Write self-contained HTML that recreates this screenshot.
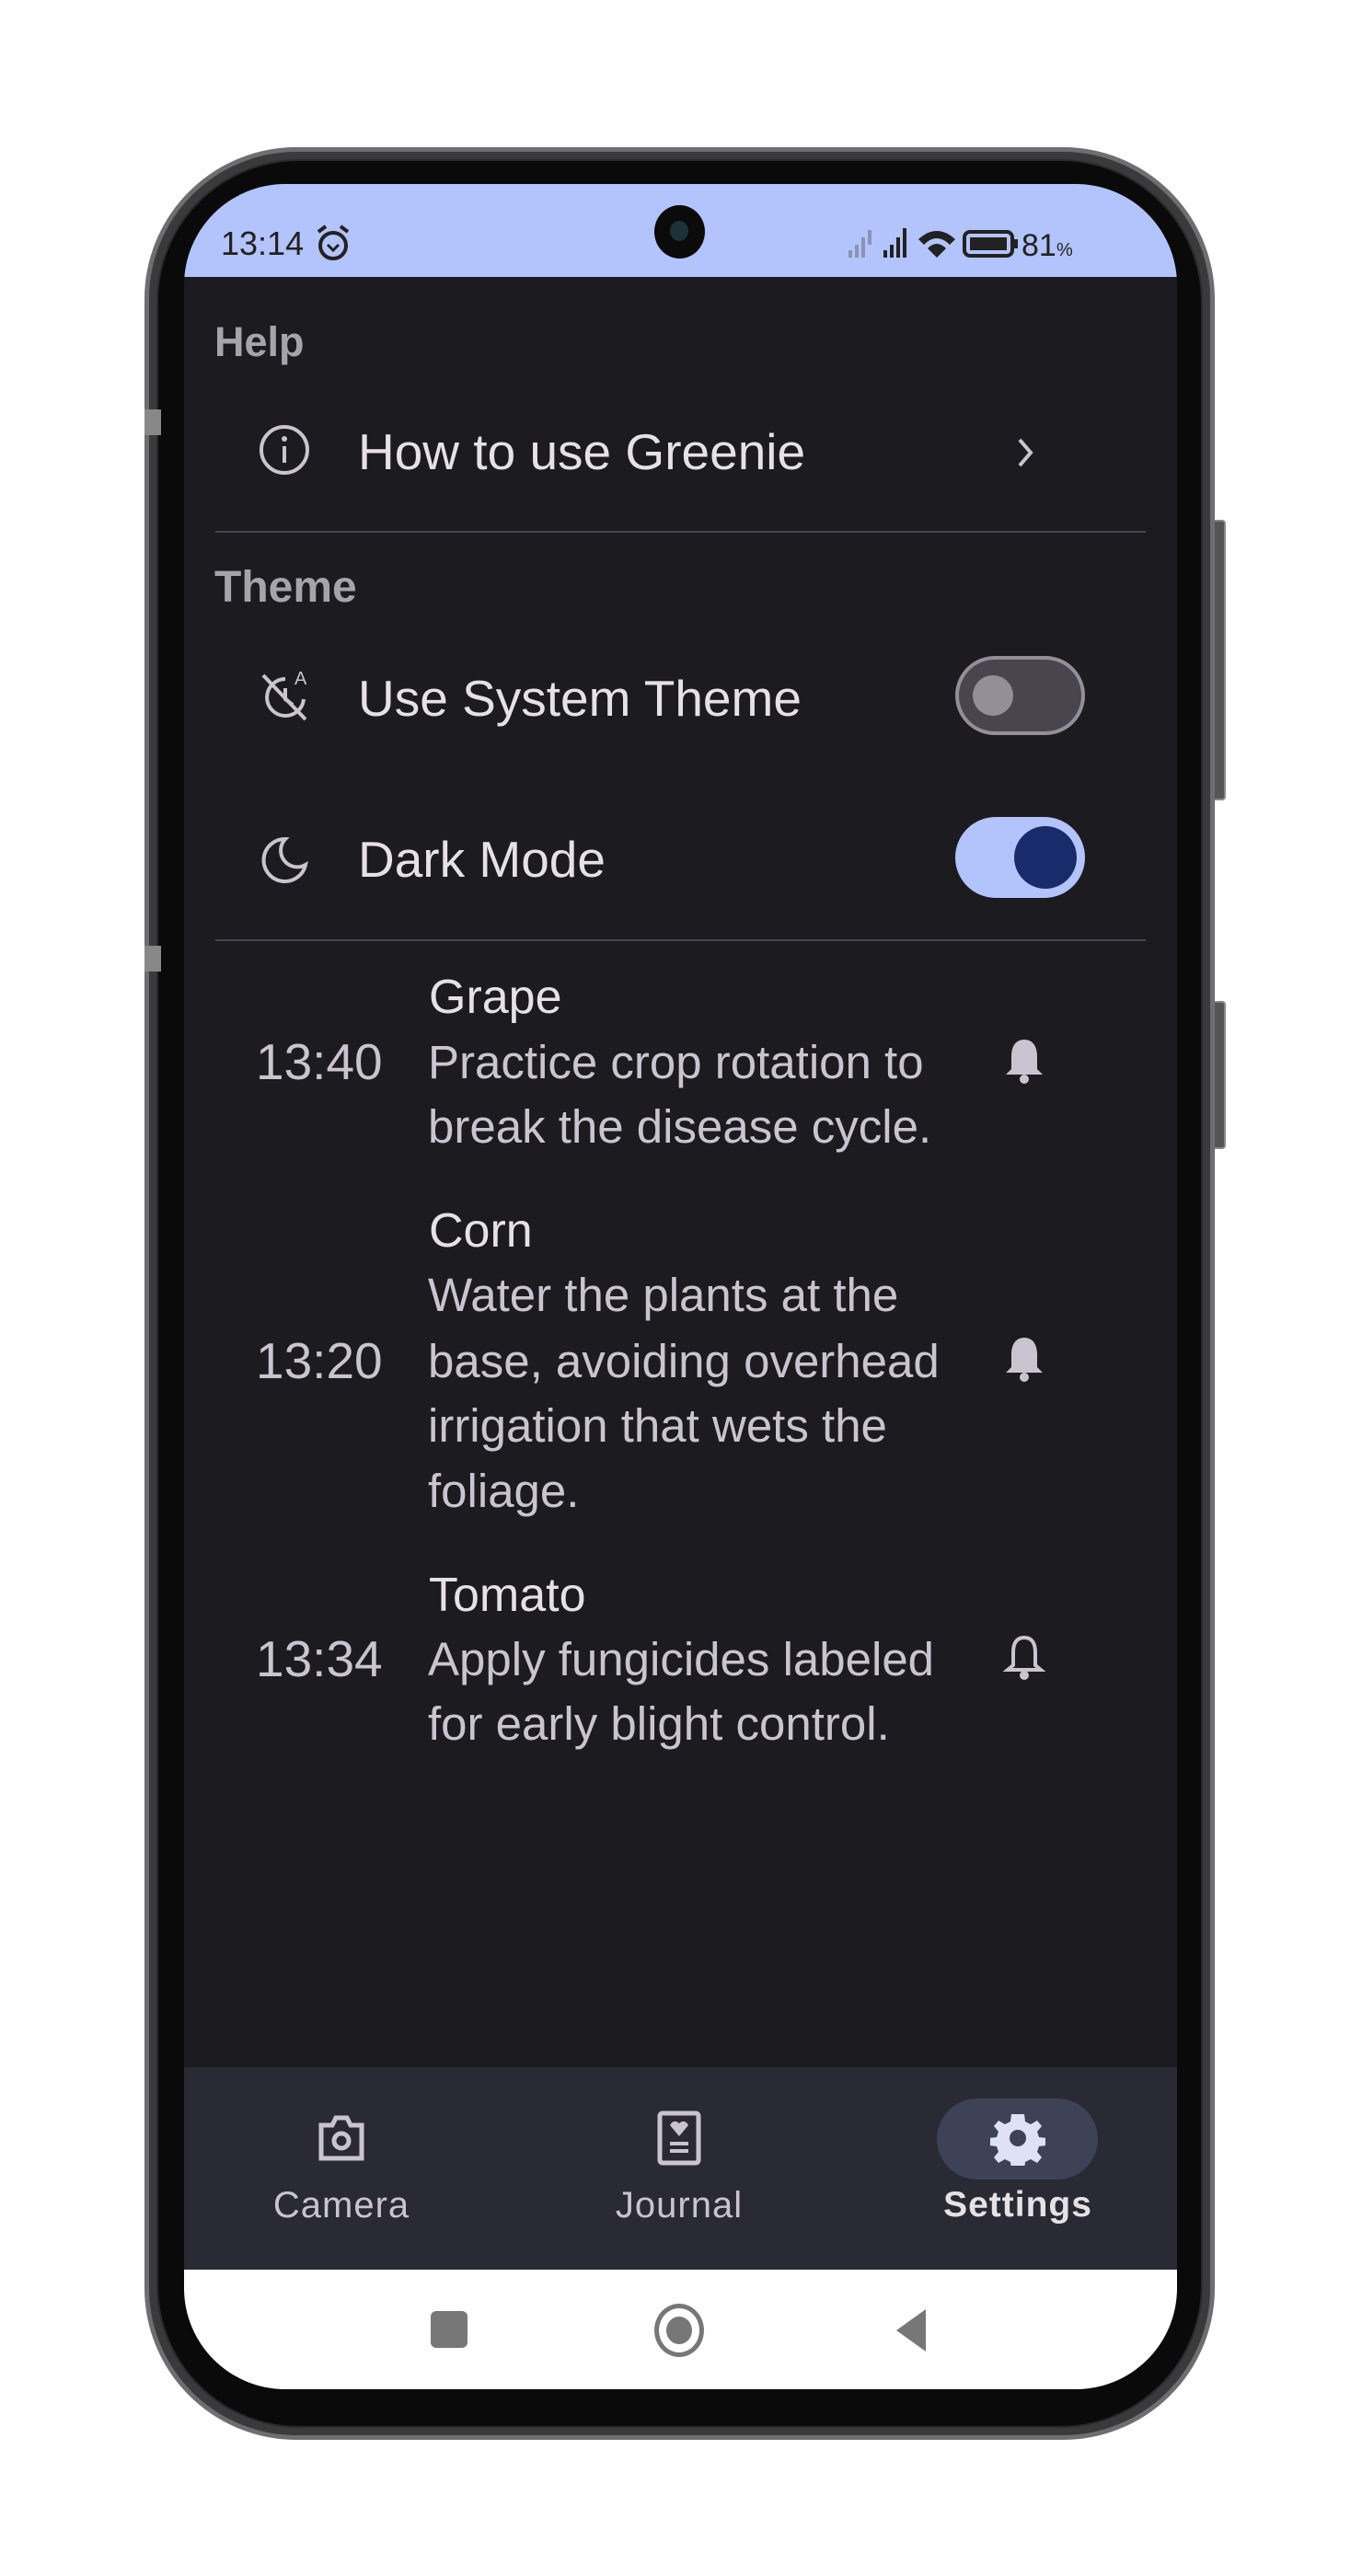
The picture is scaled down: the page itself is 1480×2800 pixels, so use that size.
<!DOCTYPE html>
<html><head><meta charset="utf-8"><style>
*{margin:0;padding:0;box-sizing:border-box}
body{width:1480px;height:2800px;background:#fff;position:relative;overflow:hidden;font-family:"Liberation Sans",sans-serif}
.a{position:absolute}
.t{position:absolute;white-space:nowrap;line-height:1}
</style></head><body>
<div class="a" style="left:1316px;top:565px;width:16px;height:305px;background:#555;border-radius:4px;border:2px solid #888"></div>
<div class="a" style="left:1316px;top:1088px;width:16px;height:161px;background:#555;border-radius:4px;border:2px solid #888"></div>
<div class="a" style="left:157px;top:160px;width:1163px;height:2492px;border-radius:165px;background:#3a3a3c;border:5px solid #6e6e70"></div>
<div class="a" style="left:170px;top:173px;width:1137px;height:2466px;border-radius:155px;background:#0a0a0a;border:2px solid #2a2a2a"></div>
<div class="a" style="left:157px;top:445px;width:18px;height:28px;background:#888"></div>
<div class="a" style="left:157px;top:1028px;width:18px;height:28px;background:#888"></div>
<div class="a" style="left:200px;top:200px;width:1079px;height:2397px;border-radius:110px;overflow:hidden;background:#1c1b1f">
  <div class="a" style="left:0;top:0;width:1079px;height:101px;background:#b3c4fd"></div>
  <div class="a" style="left:0;top:2047px;width:1079px;height:220px;background:#292a33"></div>
  <div class="a" style="left:0;top:2267px;width:1079px;height:130px;background:#fff"></div>
</div>
<div class="a" style="left:711px;top:223px;width:55px;height:58px;border-radius:50%;background:#0b0b0b"></div>
<div class="a" style="left:728px;top:240px;width:20px;height:22px;border-radius:50%;background:#1d3238"></div>
<div class="t" style="left:240px;top:247px;font-size:36px;color:#222">13:14</div>
<svg class="a" style="left:342px;top:244px" width="40" height="42" viewBox="0 0 40 42"><circle cx="20" cy="23" r="14" fill="none" stroke="#222" stroke-width="4"/><path d="M4 8 L12 2 M36 8 L28 2" stroke="#222" stroke-width="4"/><path d="M14 22 L20 28 L26 22" fill="none" stroke="#222" stroke-width="3"/></svg>
<svg class="a" style="left:920px;top:244px" width="320" height="40" viewBox="0 0 320 40">
<g fill="#8a93b5"><rect x="2" y="28" width="4" height="8"/><rect x="9" y="22" width="4" height="14"/><rect x="16" y="14" width="4" height="22"/><rect x="23" y="6" width="4" height="16"/></g>
<g fill="#222"><rect x="40" y="28" width="4" height="8"/><rect x="47" y="22" width="4" height="14"/><rect x="54" y="14" width="4" height="22"/><rect x="61" y="4" width="4" height="32"/></g>
<path d="M78 16 Q98 -2 118 16 L112 22 Q98 8 84 22 Z M88 26 Q98 16 108 26 L98 36 Z" fill="#222"/>
<rect x="128" y="8" width="52" height="26" rx="6" fill="none" stroke="#222" stroke-width="4"/><rect x="134" y="14" width="40" height="14" fill="#222"/><rect x="182" y="16" width="4" height="10" fill="#222"/>
<text x="190" y="34" font-family="Liberation Sans" font-size="34" fill="#222">81</text><text x="228" y="34" font-family="Liberation Sans" font-size="20" fill="#222">%</text>
</svg>
<div class="t" style="left:233px;top:349px;font-size:45px;font-weight:bold;color:#a6a4ab">Help</div>
<svg class="a" style="left:280px;top:460px" width="58" height="58"><circle cx="29" cy="29" r="25" fill="none" stroke="#cac4d0" stroke-width="4"/><rect x="27" y="25" width="4" height="18" fill="#cac4d0"/><circle cx="29" cy="17" r="3" fill="#cac4d0"/></svg>
<div class="t" style="left:389px;top:464px;font-size:55px;color:#e6e1e5">How to use Greenie</div>
<svg class="a" style="left:1100px;top:472px" width="28" height="40"><path d="M8 6 L20 20 L8 34" fill="none" stroke="#cac4d0" stroke-width="4"/></svg>
<div class="a" style="left:234px;top:577px;width:1011px;height:2px;background:#49454f"></div>
<div class="t" style="left:233px;top:615px;font-size:48px;font-weight:bold;color:#a6a4ab">Theme</div>
<svg class="a" style="left:278px;top:726px" width="64" height="64"><path d="M32 12 A20 20 0 1 0 52 34" fill="none" stroke="#cac4d0" stroke-width="4"/><path d="M32 22 L32 34 L40 40" fill="none" stroke="#cac4d0" stroke-width="4"/><path d="M8 8 L54 56" stroke="#cac4d0" stroke-width="4"/><text x="42" y="18" font-family="Liberation Sans" font-size="20" fill="#cac4d0">A</text></svg>
<div class="t" style="left:389px;top:732px;font-size:55px;color:#e6e1e5">Use System Theme</div>
<div class="a" style="left:1038px;top:713px;width:141px;height:86px;border-radius:43px;background:#49454f;border:4px solid #938f99"></div>
<div class="a" style="left:1057px;top:734px;width:44px;height:44px;border-radius:50%;background:#938f99"></div>
<svg class="a" style="left:280px;top:906px" width="58" height="58"><path d="M30 6 A23 23 0 1 0 52 34 A18 18 0 0 1 30 6 Z" fill="none" stroke="#cac4d0" stroke-width="4"/></svg>
<div class="t" style="left:389px;top:907px;font-size:55px;color:#e6e1e5">Dark Mode</div>
<div class="a" style="left:1038px;top:888px;width:141px;height:88px;border-radius:44px;background:#b3c4fd"></div>
<div class="a" style="left:1102px;top:898px;width:68px;height:68px;border-radius:50%;background:#1a2b6b"></div>
<div class="a" style="left:234px;top:1021px;width:1011px;height:2px;background:#49454f"></div>
<div style="position:absolute;left:0;top:0;font-size:51px;color:#cac4d0">
<div class="t" style="left:466px;top:1058px;font-size:52px;color:#e6e1e5">Grape</div>
<div class="t" style="left:278px;top:1127px;font-size:55px">13:40</div>
<div class="t" style="left:465px;top:1129px">Practice crop rotation to</div>
<div class="t" style="left:465px;top:1199px">break the disease cycle.</div>
<div class="t" style="left:466px;top:1312px;font-size:52px;color:#e6e1e5">Corn</div>
<div class="t" style="left:465px;top:1382px">Water the plants at the</div>
<div class="t" style="left:278px;top:1452px;font-size:55px">13:20</div>
<div class="t" style="left:465px;top:1454px">base, avoiding overhead</div>
<div class="t" style="left:465px;top:1524px">irrigation that wets the</div>
<div class="t" style="left:465px;top:1595px">foliage.</div>
<div class="t" style="left:466px;top:1708px;font-size:52px;color:#e6e1e5">Tomato</div>
<div class="t" style="left:278px;top:1776px;font-size:55px">13:34</div>
<div class="t" style="left:465px;top:1778px">Apply fungicides labeled</div>
<div class="t" style="left:465px;top:1848px">for early blight control.</div>
</div>
<svg class="a" style="left:1090px;top:1126px" width="46" height="56"><path d="M23 4 C12 4 9 14 9 22 L9 36 L3 42 L43 42 L37 36 L37 22 C37 14 34 4 23 4 Z" fill="#cac4d0"/><circle cx="23" cy="47" r="5" fill="#cac4d0"/></svg>
<svg class="a" style="left:1090px;top:1450px" width="46" height="56"><path d="M23 4 C12 4 9 14 9 22 L9 36 L3 42 L43 42 L37 36 L37 22 C37 14 34 4 23 4 Z" fill="#cac4d0"/><circle cx="23" cy="47" r="5" fill="#cac4d0"/></svg>
<svg class="a" style="left:1090px;top:1774px" width="46" height="56"><path d="M23 6 C13 6 11 15 11 22 L11 36 L5 41 L41 41 L35 36 L35 22 C35 15 33 6 23 6 Z" fill="none" stroke="#cac4d0" stroke-width="4"/><circle cx="23" cy="47" r="5" fill="#cac4d0"/></svg>
<div class="a" style="left:1018px;top:2281px;width:175px;height:88px;border-radius:44px;background:#3e4257"></div>
<svg class="a" style="left:343px;top:2296px" width="56" height="56"><path d="M6 14 L18 14 L22 6 L34 6 L38 14 L50 14 L50 50 L6 50 Z" fill="none" stroke="#cac4d0" stroke-width="5"/><circle cx="28" cy="31" r="8" fill="none" stroke="#cac4d0" stroke-width="5"/></svg>
<svg class="a" style="left:712px;top:2294px" width="52" height="60"><rect x="5" y="3" width="42" height="54" rx="3" fill="none" stroke="#cac4d0" stroke-width="5"/><path d="M26 28 L16 16 Q20 9 26 14 Q32 9 36 16 Z" fill="#cac4d0"/><rect x="16" y="34" width="20" height="4" fill="#cac4d0"/><rect x="16" y="42" width="20" height="4" fill="#cac4d0"/></svg>
<svg class="a" style="left:1076px;top:2294px" width="60" height="60"><path d="M30 4 l7 0 1 8 6 3 7-4 5 6-5 6 2 6 8 1 0 8-8 1-2 6 5 6-5 6-7-4-6 3-1 8-14 0-1-8-6-3-7 4-5-6 5-6-2-6-8-1 0-8 8-1 2-6-5-6 5-6 7 4 6-3 1-8 Z" fill="#dfe1f9"/><circle cx="30" cy="30" r="9" fill="#3e4257"/></svg>
<div class="t" style="left:371px;top:2377px;font-size:40px;color:#cac4d0;transform:translateX(-50%);letter-spacing:1px">Camera</div>
<div class="t" style="left:738px;top:2377px;font-size:40px;color:#cac4d0;transform:translateX(-50%);letter-spacing:1px">Journal</div>
<div class="t" style="left:1106px;top:2377px;font-size:39px;font-weight:bold;color:#e6e1e5;transform:translateX(-50%);letter-spacing:1px">Settings</div>
<div class="a" style="left:468px;top:2512px;width:40px;height:40px;border-radius:6px;background:#777"></div>
<div class="a" style="left:711px;top:2504px;width:54px;height:58px;border-radius:50%;border:5px solid #777"></div>
<div class="a" style="left:724px;top:2518px;width:28px;height:30px;border-radius:50%;background:#777"></div>
<svg class="a" style="left:970px;top:2508px" width="40" height="50"><path d="M36 2 L36 48 L4 25 Z" fill="#777"/></svg>
</body></html>
